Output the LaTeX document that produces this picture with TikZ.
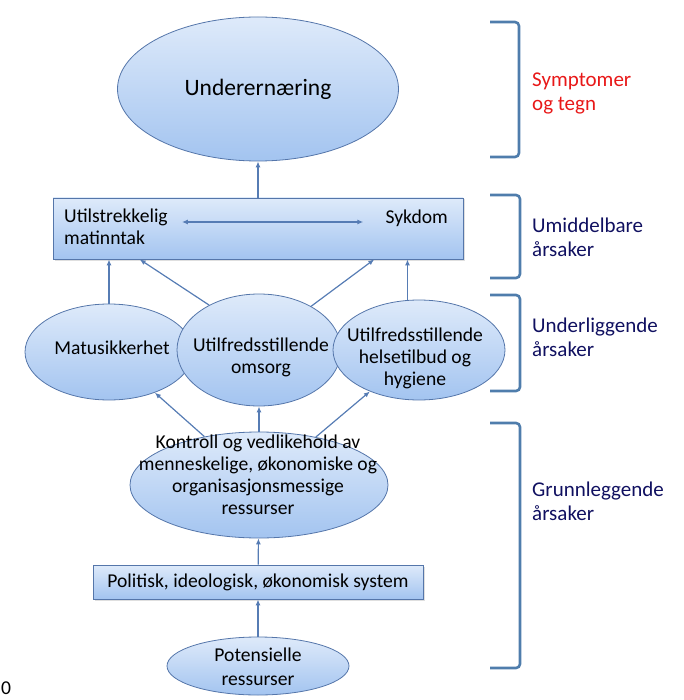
\documentclass[tikz,border=0pt]{standalone}
\usepackage{fontspec}
\setmainfont{Carlito}
\usetikzlibrary{shapes,arrows.meta,calc,shadows}

\definecolor{boxtop}{RGB}{222,234,250}
\definecolor{boxbot}{RGB}{163,196,240}
\definecolor{rim}{RGB}{85,118,170}
\definecolor{pilfarge}{RGB}{86,124,180}
\definecolor{klamme}{RGB}{79,125,172}
\definecolor{marine}{RGB}{16,16,96}
\definecolor{rod}{RGB}{232,24,24}

\tikzset{
	boks/.style={draw=rim, line width=0.8pt, top color=boxtop, bottom color=boxbot},
	ell/.style={boks, ellipse, inner sep=0pt},
	rekt/.style={boks, rectangle, inner sep=0pt, drop shadow={opacity=0.25, shadow xshift=1.5pt, shadow yshift=-1.5pt}},
	txt/.style={inner sep=0pt, align=center, font=\fontsize{19.6}{22}\selectfont},
	merk/.style={inner sep=0pt, align=left, anchor=west, font=\fontsize{21}{24}\selectfont},
	pil/.style={draw=pilfarge, line width=1.2pt, -{Latex[length=6pt,width=5pt]}},
	dpil/.style={draw=pilfarge, line width=1.2pt, {Latex[length=6pt,width=5pt]}-{Latex[length=6pt,width=5pt]}},
	klammer/.style={draw=klamme, line width=2.6pt, rounded corners=4pt}
}

\begin{document}
\begin{tikzpicture}[x=1pt,y=-1pt]
\useasboundingbox (0,0) rectangle (683,700);
%symptomer
\node[ell, minimum width=281pt, minimum height=144pt, font=\fontsize{23.5}{26}\selectfont] (under) at (258,89) {Underernæring};
%umiddelbare
\node[rekt, minimum width=410pt, minimum height=61pt] (mangel) at (258,228.5) {};
\node[txt, align=left, anchor=west] (ut) at (64,227) {Utilstrekkelig\\matinntak};
\node[txt, anchor=east] (syk) at (448,218) {Sykdom};
\draw[dpil] ($(ut.east)+(14,-5)$) -- ($(syk.west)+(-22,4)$);
%underliggende
\node[ell, minimum width=168pt, minimum height=96pt] (mat) at (109,352) {};
\node[ell, minimum width=164pt, minimum height=112pt] (oms) at (259,350) {};
\node[ell, minimum width=172pt, minimum height=100pt] (helse) at (419,350) {};
\node[txt] (mattxt) at (112,348) {Matusikkerhet};
\node[txt] (omstxt) at (261,357) {Utilfredsstillende\\omsorg};
\node[txt] (helsetxt) at (415,358) {Utilfredsstillende\\helsetilbud og\\hygiene};
%grunnleggende
\node[ell, minimum width=258pt, minimum height=106pt] (ktr) at (259,485) {};
\node[txt] (ktrtxt) at (258,475) {Kontroll og vedlikehold av\\menneskelige, økonomiske og\\organisasjonsmessige\\ressurser};
\node[rekt, txt, minimum width=330pt, minimum height=34pt] (sys) at (258,582) {Politisk, ideologisk, økonomisk system};
\node[ell, minimum width=182pt, minimum height=58pt] (pot) at (258,666) {};
\node[txt] (pottxt) at (258,667) {Potensielle\\[2pt]ressurser};
%piler
\draw[pil] (pot) -- (sys);
\draw[pil] (sys) -- (ktr);
\draw[pil] (ktr) -- (mat);
\draw[pil] (ktr) -- (oms);
\draw[pil] (ktr) -- (helse);
\draw[pil] (mat.north) -- (mat.north |- mangel.south);
\draw[pil] (oms.138) -- ($(mangel.south west)!.212!(mangel.south east)$);
\draw[pil] (oms.40) -- ($(mangel.south west)!.783!(mangel.south east)$);
\draw[pil] (helse.103) -- (helse.103 |- mangel.south);
\draw[pil] (mangel) -- (under);
%klammer
\draw[klammer] (490,22) -- (519,22) -- (519,157) -- (490,157);
\draw[klammer] (490,195) -- (520,195) -- (520,278) -- (490,278);
\draw[klammer] (490,295) -- (520,295) -- (520,391) -- (490,391);
\draw[klammer] (490,423) -- (520,423) -- (520,668) -- (490,668);
\node[merk, text=rod] (symp) at (532,93) {Symptomer\\og tegn};
\node[merk, text=marine] (umid) at (532,237) {Umiddelbare\\årsaker};
\node[merk, text=marine] (underl) at (532,337) {Underliggende\\årsaker};
\node[merk, text=marine] (grunn) at (532,501) {Grunnleggende\\årsaker};
\node[txt, anchor=base west] (null) at (1,694) {0};
\end{tikzpicture}
\end{document}
